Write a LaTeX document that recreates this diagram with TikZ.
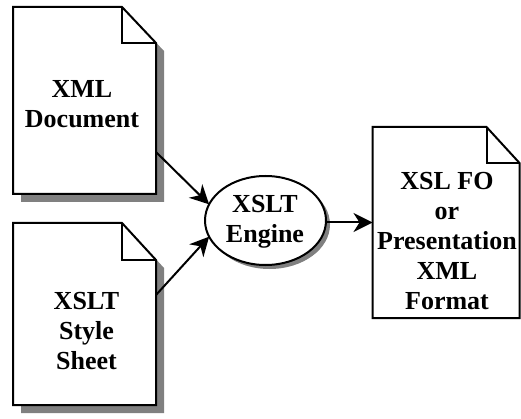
\documentclass[tikz,border=0pt]{standalone}
\usepackage{fontspec}
\setmainfont{Liberation Serif}
\usetikzlibrary{arrows.meta,shapes.geometric,shadows,calc}
\definecolor{shadowgray}{RGB}{128,128,128}
\tikzset{
  docbox/.style={rectangle, draw=none, inner sep=0pt, outer sep=0pt},
  docline/.style={draw=black, fill=white, line width=2pt, line join=miter},
  docshadow/.style={fill=shadowgray},
  lbl/.style={align=center, inner sep=0pt, font=\fontsize{26}{30}\selectfont\bfseries},
  engine/.style={ellipse, draw=black, fill=white, line width=2pt, inner sep=0pt, outer sep=0pt,
    drop shadow={shadow xshift=4pt, shadow yshift=-4pt, fill=shadowgray, opacity=1}},
  conn/.style={line width=2pt, -{Stealth[length=19pt, width=19pt, inset=6pt]}}
}
\newcommand\drawdoc[4]{% name, fold x, fold y, shadow offset
  \fill[docshadow] ([shift={(#4,#4)}]#1.north west) -- ([shift={(#4-#2,#4)}]#1.north east)
    -- ([shift={(#4,#4+#3)}]#1.north east) -- ([shift={(#4,#4)}]#1.south east)
    -- ([shift={(#4,#4)}]#1.south west) -- cycle;
  \path[docline] (#1.north west) -- ([shift={(-#2,0)}]#1.north east)
    -- ([shift={(0,#3)}]#1.north east) -- (#1.south east) -- (#1.south west) -- cycle;
  \draw[line width=2pt] ([shift={(-#2,0)}]#1.north east) -- ([shift={(-#2,#3)}]#1.north east)
    -- ([shift={(0,#3)}]#1.north east);
}
\begin{document}
\begin{tikzpicture}[x=1pt, y=-1pt]
\useasboundingbox (0,0) rectangle (521,419);
% document shapes
\node[docbox, minimum width=143pt, minimum height=187pt] (xmldoc) at (84.5,100.5) {};
\node[docbox, minimum width=143pt, minimum height=182pt] (ssdoc) at (84.5,314) {};
\node[docbox, minimum width=147pt, minimum height=191pt] (outdoc) at (446,222.5) {};
\drawdoc{xmldoc}{34}{36}{8}
\drawdoc{ssdoc}{34}{37}{8}
\path[docline] (outdoc.north west) -- ([shift={(-33,0)}]outdoc.north east)
  -- ([shift={(0,36)}]outdoc.north east) -- (outdoc.south east) -- (outdoc.south west) -- cycle;
\draw[line width=2pt] ([shift={(-33,0)}]outdoc.north east) -- ([shift={(-33,36)}]outdoc.north east)
  -- ([shift={(0,36)}]outdoc.north east);
% engine
\node[engine, minimum width=121pt, minimum height=89pt] (eng) at (265.5,220.5) {};
% labels
\node[lbl] (t1) at (82,104) {XML\\Document};
\node[lbl] (t2) at (86.5,331.5) {XSLT\\Style\\Sheet};
\node[lbl] (t3) at (265,222) {XSLT\\Engine};
\node[lbl] (t4) at (447,241.5) {XSL FO\\or\\Presentation\\XML\\Format};
% connectors
\draw[conn] ([yshift=-51.5pt]xmldoc.east) -- (eng.164);
\draw[conn] ([yshift=19pt]ssdoc.east) -- (eng.196);
\draw[conn] ([yshift=-2pt]eng.east) -- ([yshift=-2pt]eng.east -| outdoc.west);
\end{tikzpicture}
\end{document}
